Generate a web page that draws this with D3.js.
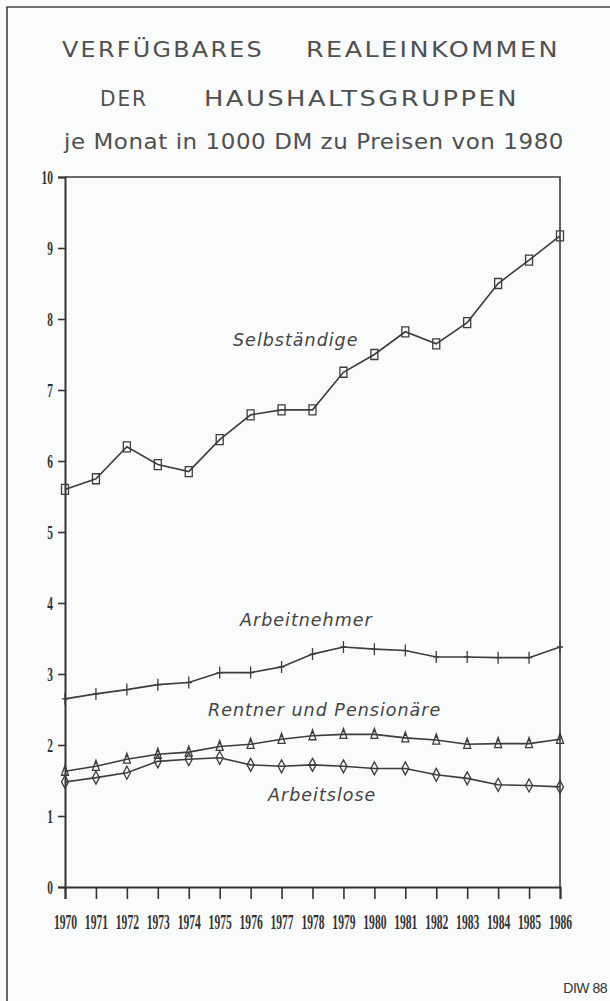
<!DOCTYPE html>
<html>
<head>
<meta charset="utf-8">
<script src="https://cdn.jsdelivr.net/npm/d3@7"></script>
<style>
  body { margin: 0; background: #fafbfb; }
  svg { display: block; }
  .tick text { font-family: "Liberation Serif", "DejaVu Serif", serif; font-weight: bold; fill: #333; }
</style>
</head>
<body>
<div class="chart"></div>
<script>
// data
var years = [1970, 1971, 1972, 1973, 1974, 1975, 1976, 1977, 1978, 1979, 1980, 1981, 1982, 1983, 1984, 1985, 1986];
var selbstaendige = [5.6, 5.75, 6.2, 5.95, 5.85, 6.3, 6.65, 6.72, 6.72, 7.25, 7.5, 7.82, 7.65, 7.95, 8.5, 8.83, 9.17];
var arbeitnehmer = [2.65, 2.72, 2.78, 2.85, 2.88, 3.02, 3.02, 3.1, 3.28, 3.38, 3.35, 3.33, 3.24, 3.24, 3.23, 3.23, 3.38];
var rentner = [1.63, 1.7, 1.8, 1.87, 1.9, 1.98, 2.01, 2.08, 2.13, 2.15, 2.15, 2.1, 2.07, 2.01, 2.02, 2.02, 2.08];
var arbeitslose = [1.48, 1.54, 1.61, 1.77, 1.8, 1.82, 1.72, 1.7, 1.72, 1.7, 1.67, 1.67, 1.58, 1.53, 1.44, 1.43, 1.41];
var yTicks = [0, 1, 2, 3, 4, 5, 6, 7, 8, 9, 10];

var svgWidth = 610;
var svgHeight = 1001;
var margin = { top: 177, right: 50, bottom: 114, left: 65 };
var width = svgWidth - margin.left - margin.right;
var height = svgHeight - margin.top - margin.bottom;

var svg = d3.select(".chart")
  .append("svg")
  .attr("width", svgWidth)
  .attr("height", svgHeight);

// outer frame (only top and left visible)
svg.append("path")
  .attr("d", "M7,1001 V7 H610")
  .attr("fill", "none")
  .attr("stroke", "#444")
  .attr("stroke-width", 1.6);

// titles
var titleColor = "#505050";
function title(txt, x, y, len, size, spacing) {
  svg.append("text")
    .attr("x", x).attr("y", y)
    .attr("textLength", len)
    .attr("lengthAdjust", "spacingAndGlyphs")
    .style("font-family", "'DejaVu Sans', sans-serif")
    .style("font-size", size + "px")
    .style("letter-spacing", spacing + "px")
    .style("fill", titleColor)
    .text(txt);
}
title("VERFÜGBARES", 62, 57, 202, 21, 2);
title("REALEINKOMMEN", 306, 57, 254, 21, 2);
title("DER", 100, 106, 48, 21, 2);
title("HAUSHALTSGRUPPEN", 204, 106, 315, 21, 2);
title("je Monat in 1000 DM zu Preisen von 1980", 64, 149, 500, 21, 0.5);

var chartGroup = svg.append("g")
  .attr("transform", `translate(${margin.left}, ${margin.top})`);

var xScale = d3.scaleLinear().domain([1970, 1986]).range([0, width]);
var yScale = d3.scaleLinear().domain([0, 10]).range([height, 0]);

// frame top + right
chartGroup.append("path")
  .attr("d", `M0,0 H${width} V${height}`)
  .attr("fill", "none")
  .attr("stroke", "#3a3a3a")
  .attr("stroke-width", 1.6);

var leftAxis = d3.axisLeft(yScale).tickValues(yTicks).tickFormat(d3.format("d")).tickSize(7);
var bottomAxis = d3.axisBottom(xScale).tickValues(years).tickFormat(d3.format("d")).tickSize(12).tickPadding(16);

var yAxis = chartGroup.append("g").call(leftAxis);
var xAxis = chartGroup.append("g").attr("transform", `translate(0, ${height})`).call(bottomAxis);

[yAxis, xAxis].forEach(function(ax) {
  ax.select(".domain").attr("stroke", "#333").attr("stroke-width", 2);
  ax.selectAll(".tick line").attr("stroke", "#333").attr("stroke-width", 1.6);
});

// narrow, tall tick numbers
yAxis.selectAll(".tick text")
  .style("font-size", "19px")
  .attr("x", -20)
  .attr("transform", "scale(0.6,1)");
xAxis.selectAll(".tick text")
  .style("font-size", "20px")
  .attr("transform", "scale(0.58,1)");

var series = [
  { name: "Selbständige", values: selbstaendige, marker: "square", lx: 233, ly: 346 },
  { name: "Arbeitnehmer", values: arbeitnehmer, marker: "plus", lx: 240, ly: 626 },
  { name: "Rentner und Pensionäre", values: rentner, marker: "triangle", lx: 208, ly: 716 },
  { name: "Arbeitslose", values: arbeitslose, marker: "diamond", lx: 268, ly: 801 }
];

var line = d3.line()
  .x((d, i) => xScale(years[i]))
  .y(d => yScale(d));

function markerPath(type) {
  if (type === "square") return "M-3.5,-5 H3.5 V5 H-3.5 Z";
  if (type === "plus") return "M0,-6 V6 M-3,0 H3";
  if (type === "triangle") return "M0,-6 L3.5,4 H-3.5 Z M0,-6 V-2";
  return "M0,-6.5 L3.5,0 L0,6.5 L-3.5,0 Z";
}

series.forEach(function(s) {
  chartGroup.append("path")
    .datum(s.values)
    .attr("d", line)
    .attr("fill", "none")
    .attr("stroke", "#3c3c3c")
    .attr("stroke-width", 1.6);

  chartGroup.selectAll(null)
    .data(s.values)
    .enter()
    .append("path")
    .attr("transform", (d, i) => `translate(${xScale(years[i])}, ${yScale(d)})`)
    .attr("d", markerPath(s.marker))
    .attr("fill", "none")
    .attr("stroke", "#3c3c3c")
    .attr("stroke-width", 1.3);

  svg.append("text")
    .attr("x", s.lx)
    .attr("y", s.ly)
    .style("font-family", "'DejaVu Sans', sans-serif")
    .style("font-style", "italic")
    .style("font-size", "17.5px")
    .style("letter-spacing", "1px")
    .style("fill", "#444")
    .text(s.name);
});

svg.append("text")
  .attr("x", 607)
  .attr("y", 993)
  .attr("text-anchor", "end")
  .style("font-family", "'Liberation Sans', Arial, sans-serif")
  .style("font-size", "14px")
  .style("letter-spacing", "-0.5px")
  .style("fill", "#333")
  .text("DIW 88");
</script>
</body>
</html>
